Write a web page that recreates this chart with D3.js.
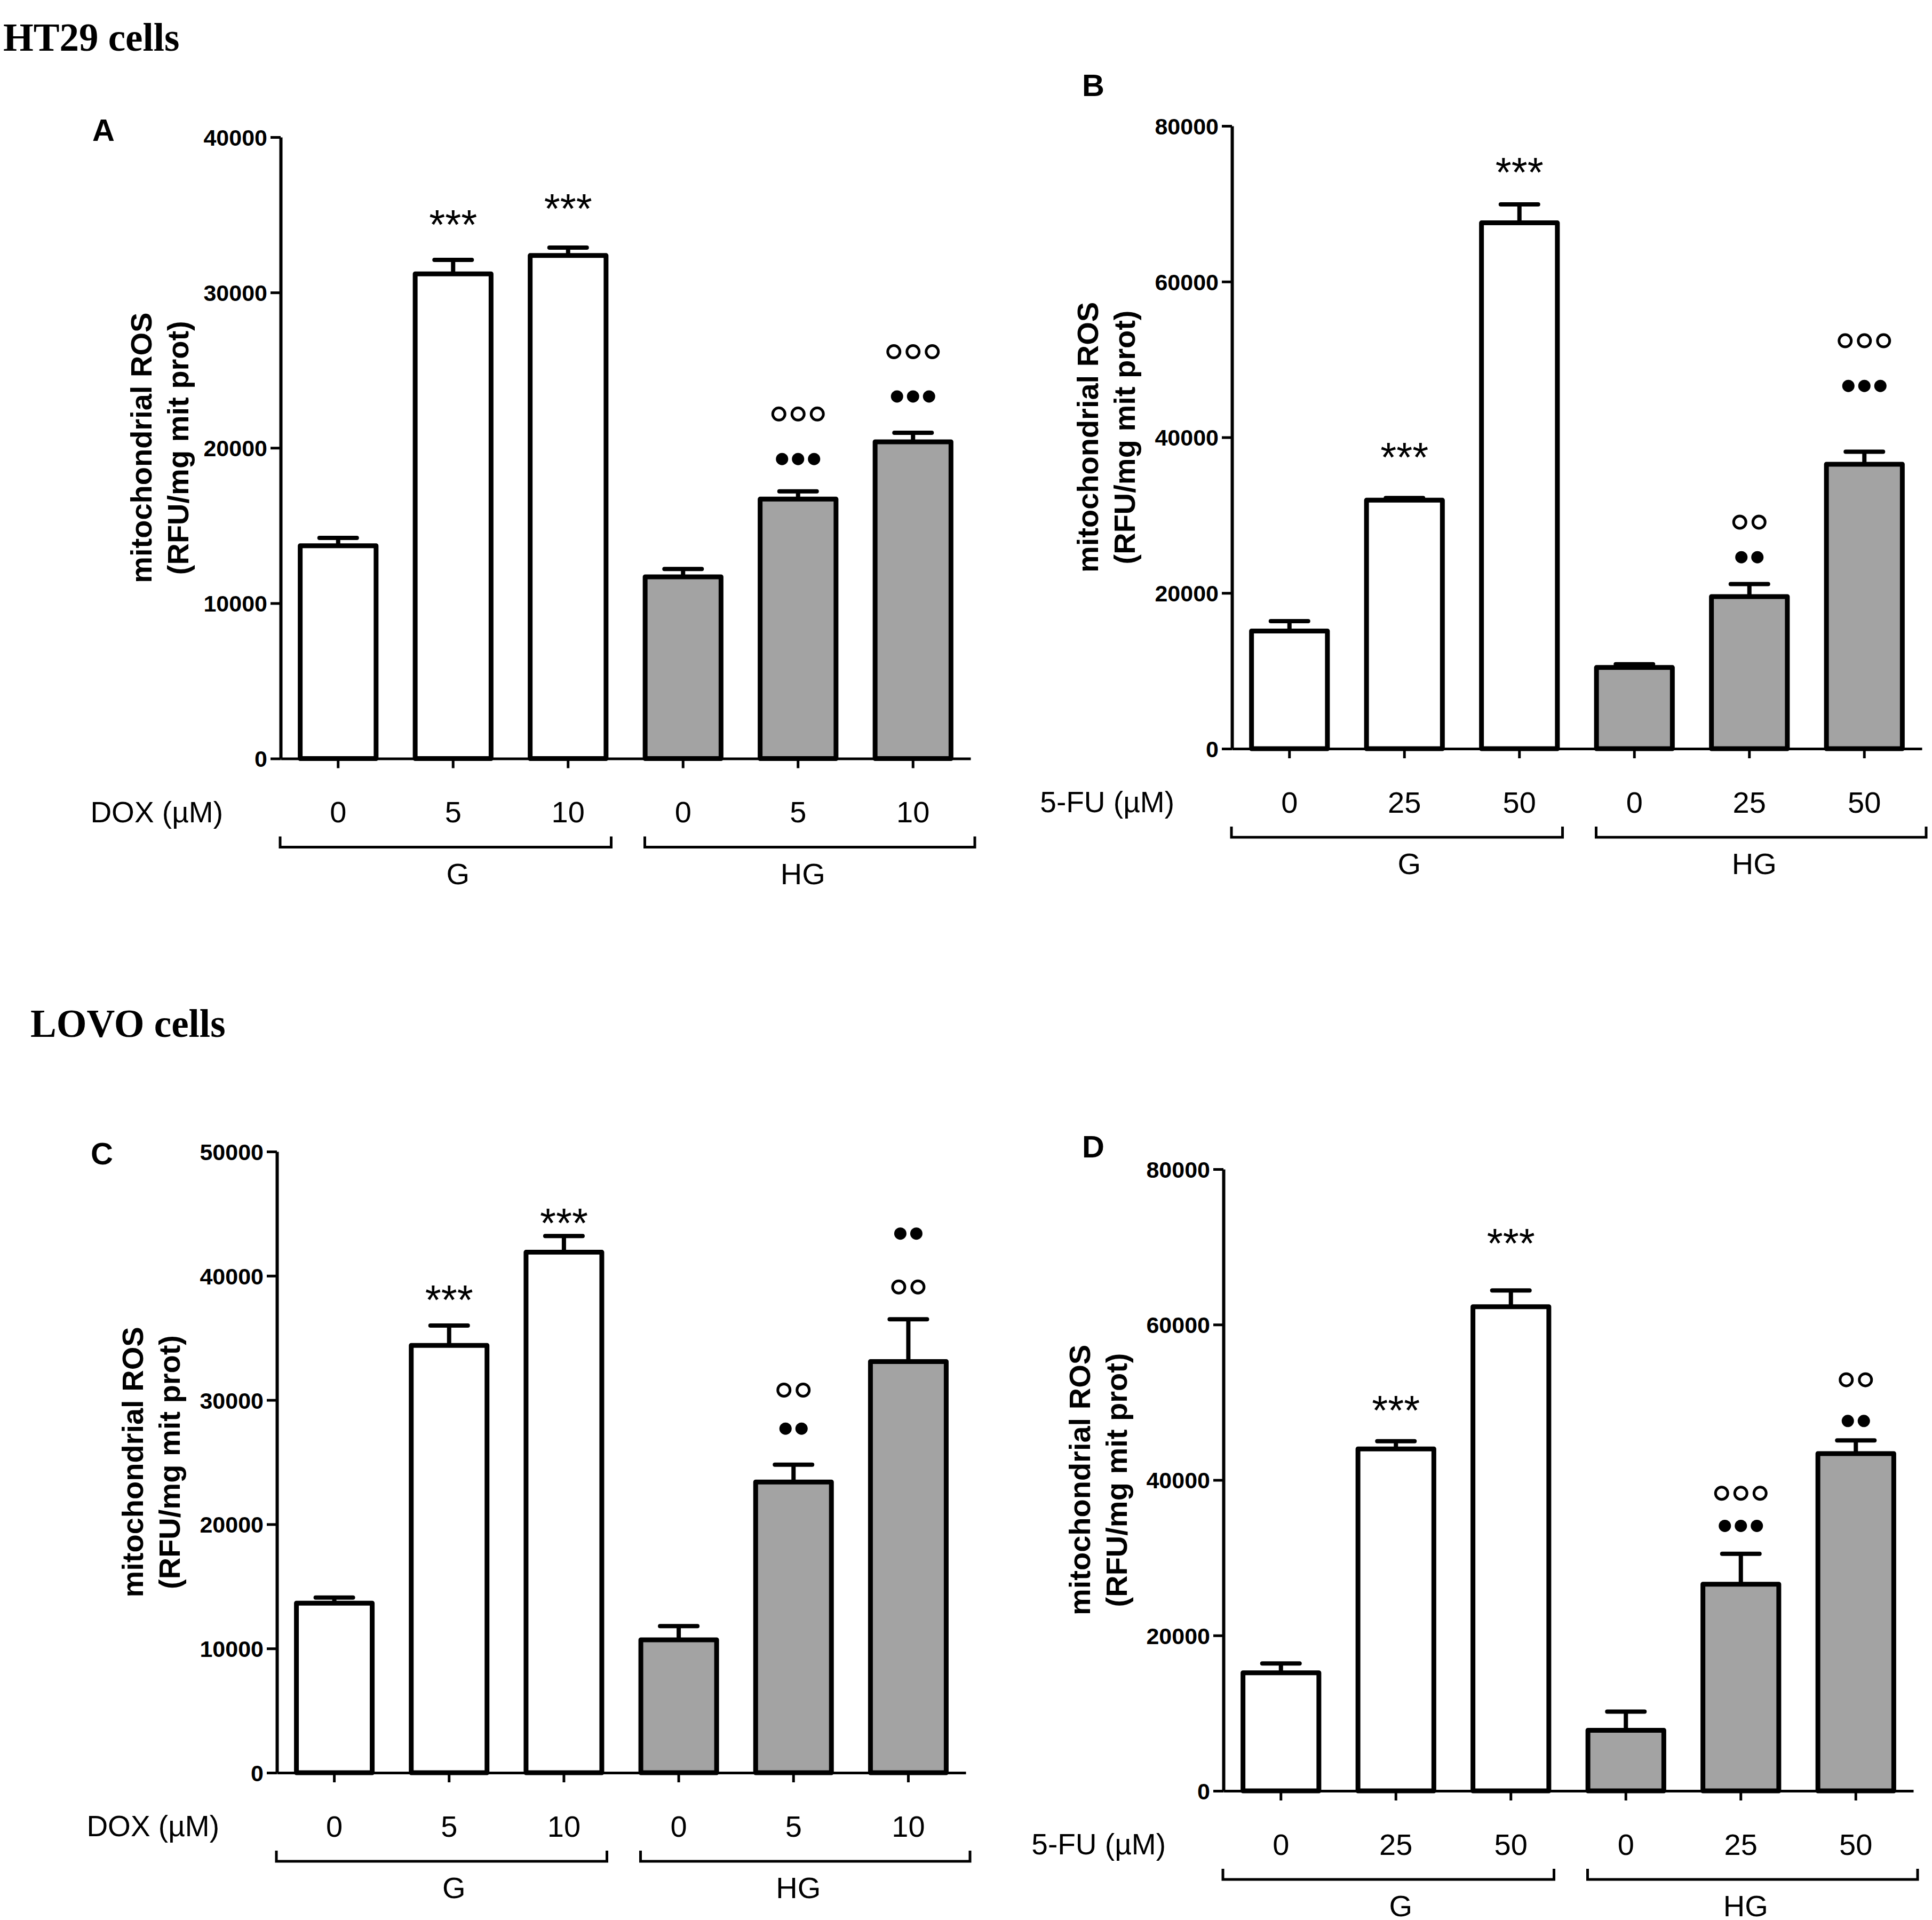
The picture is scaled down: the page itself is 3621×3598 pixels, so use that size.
<!DOCTYPE html>
<html>
<head>
<meta charset="utf-8">
<script src="https://cdn.jsdelivr.net/npm/d3@7"></script>
<style>
  body { margin: 0; background: #fff; }
  text { fill: #000; }
</style>
</head>
<body>
<script>
// values (RFU/mg mit prot)
const doxTicks = ['0', '5', '10', '0', '5', '10'];
const fuTicks = ['0', '25', '50', '0', '25', '50'];
const groups = ['G', 'HG'];

const ht29DoxMean = [13700, 31200, 32380, 11700, 16700, 20390];
const ht29DoxSem = [500, 900, 510, 500, 500, 580];
const ht29FuMean = [15120, 31920, 67550, 10430, 19540, 36540];
const ht29FuSem = [1260, 280, 2380, 420, 1600, 1610];
const lovoDoxMean = [13650, 34400, 41900, 10700, 23400, 33100];
const lovoDoxSem = [450, 1600, 1300, 1100, 1400, 3400];
const lovoFuMean = [15200, 44000, 62300, 7800, 26600, 43400];
const lovoFuSem = [1200, 1000, 2100, 2400, 3900, 1700];

// significance marks: bar index, kind, count, level (value units)
const ht29DoxMarks = [
    {bar: 1, kind: 'star', n: 3, at: 34750},
    {bar: 2, kind: 'star', n: 3, at: 35780},
    {bar: 4, kind: 'open', n: 3, at: 22180},
    {bar: 4, kind: 'dot', n: 3, at: 19280},
    {bar: 5, kind: 'open', n: 3, at: 26190},
    {bar: 5, kind: 'dot', n: 3, at: 23310}
];
const ht29FuMarks = [
    {bar: 1, kind: 'star', n: 3, at: 38200},
    {bar: 2, kind: 'star', n: 3, at: 74800},
    {bar: 4, kind: 'open', n: 2, at: 29100},
    {bar: 4, kind: 'dot', n: 2, at: 24600},
    {bar: 5, kind: 'open', n: 3, at: 52400},
    {bar: 5, kind: 'dot', n: 3, at: 46600}
];
const lovoDoxMarks = [
    {bar: 1, kind: 'star', n: 3, at: 38550},
    {bar: 2, kind: 'star', n: 3, at: 44700},
    {bar: 4, kind: 'open', n: 2, at: 30800},
    {bar: 4, kind: 'dot', n: 2, at: 27700},
    {bar: 5, kind: 'dot', n: 2, at: 43400},
    {bar: 5, kind: 'open', n: 2, at: 39100}
];
const lovoFuMarks = [
    {bar: 1, kind: 'star', n: 3, at: 49700},
    {bar: 2, kind: 'star', n: 3, at: 71200},
    {bar: 4, kind: 'open', n: 3, at: 38300},
    {bar: 4, kind: 'dot', n: 3, at: 34100},
    {bar: 5, kind: 'open', n: 2, at: 52900},
    {bar: 5, kind: 'dot', n: 2, at: 47600}
];

const ticks40 = [0, 10000, 20000, 30000, 40000];
const ticks50 = [0, 10000, 20000, 30000, 40000, 50000];
const ticks80 = [0, 20000, 40000, 60000, 80000];

const W = 3621, H = 3598;
const SANS = "'Liberation Sans', Arial, Helvetica, sans-serif";
const NARROW = "'Liberation Sans Narrow', 'Arial Narrow', 'Liberation Sans', Arial, sans-serif";
const SERIF = "'Liberation Serif', 'Times New Roman', Times, serif";
const HG_FILL = '#a3a3a3';

const svg = d3.select('body').append('svg')
    .attr('width', W)
    .attr('height', H)
    .attr('viewBox', `0 0 ${W} ${H}`);

svg.append('rect').attr('width', W).attr('height', H).attr('fill', '#fff');

// row headings
svg.append('text')
    .attr('x', 6).attr('y', 95)
    .style('font-family', SERIF).style('font-weight', 'bold').style('font-size', '73px')
    .text('HT29 cells');
svg.append('text')
    .attr('x', 57).attr('y', 1943)
    .style('font-family', SERIF).style('font-weight', 'bold').style('font-size', '73px')
    .text('LOVO cells');

/**
 * Draws one bar panel
 * @param cfg frame and data of the panel
 */
function drawPanel(cfg) {
    const g = svg.append('g');

    const y = d3.scaleLinear()
        .domain([0, cfg.yMax])
        .range([cfg.y0, cfg.yTop]);
    const x = d3.scaleBand()
        .domain(d3.range(cfg.mean.length))
        .range([cfg.x0, cfg.x1])
        .paddingInner(0.34)
        .paddingOuter(0.17);
    const bw = x.bandwidth();
    const cx = i => x(i) + bw / 2;

    // panel letter
    g.append('text')
        .attr('x', cfg.letterX).attr('y', cfg.letterY)
        .attr('text-anchor', 'middle')
        .style('font-family', SANS).style('font-weight', 'bold').style('font-size', '58px')
        .text(cfg.letter);

    // y axis
    const yAxis = g.append('g')
        .attr('transform', `translate(${cfg.x0},0)`)
        .call(d3.axisLeft(y)
            .tickValues(cfg.ticks)
            .tickFormat(d3.format('d'))
            .tickSize(19)
            .tickSizeOuter(0)
            .tickPadding(6));
    yAxis.select('.domain').attr('stroke-width', 6);
    yAxis.selectAll('.tick line').attr('stroke-width', 5);
    yAxis.selectAll('.tick text')
        .attr('dy', '0.36em')
        .style('font-family', NARROW).style('font-weight', 'bold').style('font-size', '43px');

    // y title, two lines
    const midY = (cfg.y0 + cfg.yTop) / 2;
    const title = g.append('text')
        .attr('transform', `translate(${cfg.x0 + cfg.titleDx},${midY}) rotate(-90)`)
        .attr('text-anchor', 'middle')
        .style('font-family', SANS).style('font-weight', 'bold').style('font-size', '56px');
    title.append('tspan').attr('x', 0).attr('y', 0).text('mitochondrial ROS');
    title.append('tspan').attr('x', 0).attr('y', 69).text('(RFU/mg mit prot)');

    // bars
    g.selectAll('rect.bar')
        .data(cfg.mean)
        .enter()
        .append('rect')
        .attr('class', 'bar')
        .attr('x', (d, i) => x(i))
        .attr('y', d => y(d))
        .attr('width', bw)
        .attr('height', d => cfg.y0 - y(d))
        .attr('fill', (d, i) => i < 3 ? '#fff' : HG_FILL)
        .attr('stroke', '#000')
        .attr('stroke-width', 9)
        .attr('stroke-linejoin', 'round');

    // error bars (upper half only)
    const err = g.selectAll('g.err')
        .data(cfg.mean)
        .enter()
        .append('g')
        .attr('class', 'err');
    err.append('line')
        .attr('x1', (d, i) => cx(i)).attr('x2', (d, i) => cx(i))
        .attr('y1', d => y(d))
        .attr('y2', (d, i) => y(d + cfg.sem[i]))
        .attr('stroke', '#000').attr('stroke-width', 8);
    err.append('line')
        .attr('x1', (d, i) => cx(i) - 35).attr('x2', (d, i) => cx(i) + 35)
        .attr('y1', (d, i) => y(d + cfg.sem[i]))
        .attr('y2', (d, i) => y(d + cfg.sem[i]))
        .attr('stroke', '#000').attr('stroke-width', 8).attr('stroke-linecap', 'round');

    // x axis
    const xAxis = g.append('g')
        .attr('transform', `translate(0,${cfg.y0})`)
        .call(d3.axisBottom(x)
            .tickFormat(i => cfg.labels[i])
            .tickSize(18)
            .tickSizeOuter(0)
            .tickPadding(62));
    xAxis.select('.domain').attr('stroke-width', 5);
    xAxis.selectAll('.tick line').attr('stroke-width', 5);
    xAxis.selectAll('.tick text')
        .style('font-family', SANS).style('font-size', '56px');

    g.append('text')
        .attr('x', cfg.x0 - 108).attr('y', cfg.y0 + 119)
        .attr('text-anchor', 'end')
        .style('font-family', SANS).style('font-size', '55px')
        .text(cfg.drug);

    // group brackets
    const mid = (x(2) + bw + x(3)) / 2;
    const spans = [[cfg.x0 - 1, mid - 27], [mid + 36, cfg.x1 + 8]];
    const by = cfg.y0 + 166;
    g.selectAll('path.bracket')
        .data(spans)
        .enter()
        .append('path')
        .attr('class', 'bracket')
        .attr('d', d => `M${d[0]},${by - 20}V${by}H${d[1]}V${by - 20}`)
        .attr('fill', 'none')
        .attr('stroke', '#000')
        .attr('stroke-width', 5);
    g.selectAll('text.group')
        .data(groups)
        .enter()
        .append('text')
        .attr('class', 'group')
        .attr('x', (d, i) => cx(1 + 3 * i) + 9)
        .attr('y', cfg.y0 + 235)
        .attr('text-anchor', 'middle')
        .style('font-family', SANS).style('font-size', '56px')
        .text(d => d);

    // significance marks
    cfg.marks.forEach(m => {
        const mx = cx(m.bar);
        const my = y(m.at);
        if (m.kind === 'star') {
            g.append('text')
                .attr('x', mx).attr('y', my + 38)
                .attr('text-anchor', 'middle')
                .style('font-family', SANS).style('font-size', '77px')
                .text('*'.repeat(m.n));
        } else {
            const gap = m.kind === 'open' ? 36 : 30;
            g.selectAll(null)
                .data(d3.range(m.n))
                .enter()
                .append('circle')
                .attr('cx', k => mx + (k - (m.n - 1) / 2) * gap)
                .attr('cy', my)
                .attr('r', 11.5)
                .attr('fill', m.kind === 'open' ? '#fff' : '#000')
                .attr('stroke', '#000')
                .attr('stroke-width', m.kind === 'open' ? 5 : 0);
        }
    });
}

drawPanel({letter: 'A', letterX: 194, letterY: 264, x0: 526, x1: 1819, y0: 1421.5, yTop: 257,
    yMax: 40000, ticks: ticks40, labels: doxTicks, drug: 'DOX (µM)', titleDx: -242,
    mean: ht29DoxMean, sem: ht29DoxSem, marks: ht29DoxMarks});
drawPanel({letter: 'B', letterX: 2049, letterY: 180, x0: 2309, x1: 3602, y0: 1403, yTop: 236,
    yMax: 80000, ticks: ticks80, labels: fuTicks, drug: '5-FU (µM)', titleDx: -251,
    mean: ht29FuMean, sem: ht29FuSem, marks: ht29FuMarks});
drawPanel({letter: 'C', letterX: 191, letterY: 2182, x0: 519, x1: 1810, y0: 3322, yTop: 2158,
    yMax: 50000, ticks: ticks50, labels: doxTicks, drug: 'DOX (µM)', titleDx: -251,
    mean: lovoDoxMean, sem: lovoDoxSem, marks: lovoDoxMarks});
drawPanel({letter: 'D', letterX: 2049, letterY: 2169, x0: 2293, x1: 3586, y0: 3356, yTop: 2191,
    yMax: 80000, ticks: ticks80, labels: fuTicks, drug: '5-FU (µM)', titleDx: -250,
    mean: lovoFuMean, sem: lovoFuSem, marks: lovoFuMarks});
</script>
</body>
</html>
